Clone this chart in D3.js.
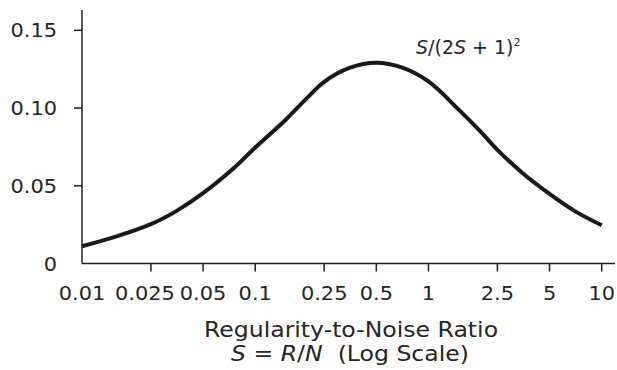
<!DOCTYPE html>
<html>
<head>
<meta charset="utf-8">
<script src="https://cdn.jsdelivr.net/npm/d3@7"></script>
<style>
    body { margin: 0; background: #fff; }
    text { font-family: "DejaVu Sans", Verdana, sans-serif; fill: #262626; }
</style>
</head>
<body>
<div id="chart"></div>
<script>
// S values (log scale) and the curve height
var sValues = [0.01, 0.015, 0.025, 0.035, 0.05, 0.075, 0.1, 0.15, 0.2, 0.25, 0.35,
    0.5, 0.7, 1, 1.5, 2, 2.5, 3.5, 5, 7, 10]
var curveValues = [0.0111, 0.0166, 0.0253, 0.0337, 0.0452, 0.0612, 0.0746, 0.0925, 0.1067, 0.1169, 0.1258,
    0.1291, 0.1261, 0.1171, 0.0988, 0.0848, 0.0731, 0.0581, 0.0448, 0.0337, 0.0246]

var xTicks = [0.01, 0.025, 0.05, 0.1, 0.25, 0.5, 1, 2.5, 5, 10]
var xTickLabels = ["0.01", "0.025", "0.05", "0.1", "0.25", "0.5", "1", "2.5", "5", "10"]
var yTicks = [0, 0.05, 0.10, 0.15]
var yTickLabels = ["0", "0.05", "0.10", "0.15"]

var width = 617, height = 370

var svg = d3.select("#chart").append("svg")
    .attr("width", width)
    .attr("height", height)

var x = d3.scaleLog().domain([0.01, 10]).range([82, 601.7])
var y = d3.scaleLinear().domain([0, 0.15]).range([263.5, 30.3])

// axis lines
svg.append("line")
    .attr("x1", x(0.01)).attr("x2", 615)
    .attr("y1", y(0)).attr("y2", y(0))
    .attr("stroke", "#222").attr("stroke-width", 1.5)
svg.append("line")
    .attr("x1", x(0.01)).attr("x2", x(0.01))
    .attr("y1", y(0)).attr("y2", 10)
    .attr("stroke", "#222").attr("stroke-width", 1.5)

// x ticks
svg.append("g").selectAll("line")
    .data(xTicks.slice(1))
    .enter().append("line")
    .attr("x1", d => x(d)).attr("x2", d => x(d))
    .attr("y1", y(0)).attr("y2", y(0) + 8)
    .attr("stroke", "#222").attr("stroke-width", 1.5)

svg.append("g").selectAll("text")
    .data(xTicks)
    .enter().append("text")
    // the 0.025 label sits a bit left of its tick in the original
    .attr("transform", d => "translate(" + (x(d) - (d == 0.025 ? 6 : 0)) + ",300) scale(1.1,1)")
    .attr("text-anchor", "middle")
    .style("font-size", "19px")
    .text((d, i) => xTickLabels[i])

// y ticks
svg.append("g").selectAll("line")
    .data(yTicks.slice(1))
    .enter().append("line")
    .attr("x1", x(0.01) - 8).attr("x2", x(0.01))
    .attr("y1", d => y(d)).attr("y2", d => y(d))
    .attr("stroke", "#222").attr("stroke-width", 1.5)

svg.append("g").selectAll("text")
    .data(yTicks)
    .enter().append("text")
    .attr("transform", d => "translate(57," + (y(d) + 7) + ") scale(1.1,1)")
    .attr("text-anchor", "end")
    .style("font-size", "19px")
    .text((d, i) => yTickLabels[i])

// the curve
var line = d3.line()
    .x((d, i) => x(sValues[i]))
    .y(d => y(d))
    .curve(d3.curveCatmullRom.alpha(0.5))

svg.append("path")
    .datum(curveValues)
    .attr("fill", "none")
    .attr("stroke", "#1a1a1a")
    .attr("stroke-width", 4)
    .attr("stroke-linejoin", "round")
    .attr("d", line)

// formula label
var f = svg.append("text")
    .attr("transform", "translate(416,54)")
    .style("font-size", "19px")
f.append("tspan").style("font-style", "italic").text("S")
f.append("tspan").text("/(2")
f.append("tspan").style("font-style", "italic").text("S")
f.append("tspan").text(" + 1)")
f.append("tspan").attr("dy", -8).style("font-size", "11px").text("2")

// axis title
svg.append("text")
    .attr("transform", "translate(351,337) scale(1.15,1)")
    .attr("text-anchor", "middle")
    .style("font-size", "20.5px")
    .text("Regularity-to-Noise Ratio")

var t2 = svg.append("text")
    .attr("transform", "translate(350,361) scale(1.15,1)")
    .attr("text-anchor", "middle")
    .style("font-size", "20.5px")
t2.append("tspan").style("font-style", "italic").text("S")
t2.append("tspan").text(" = ")
t2.append("tspan").style("font-style", "italic").text("R")
t2.append("tspan").text("/")
t2.append("tspan").style("font-style", "italic").text("N")
t2.append("tspan").text("\u00a0\u00a0(Log Scale)")
</script>
</body>
</html>
